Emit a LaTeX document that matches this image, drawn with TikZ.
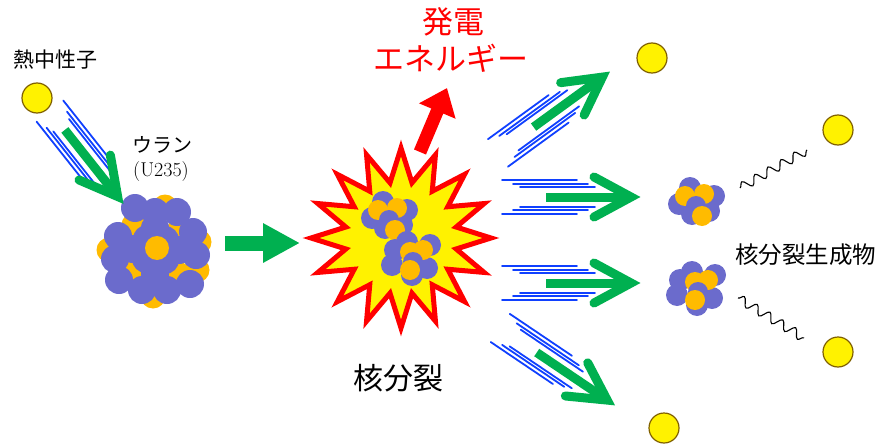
\documentclass[tikz,border=0pt]{standalone}
\usepackage{fontspec}
\newfontfamily\jp{Noto Sans CJK JP}
\usepackage{tikz}
\usetikzlibrary{arrows.meta,shapes.geometric,decorations.pathmorphing}

\definecolor{nucPurple}{RGB}{107,107,204}
\definecolor{nucOrange}{RGB}{255,187,0}
\definecolor{arrowGreen}{RGB}{0,176,80}
\definecolor{speedBlue}{RGB}{16,64,255}
\definecolor{neutronEdge}{RGB}{128,96,0}

\tikzset{
  neutron/.style={circle, fill=yellow, draw=neutronEdge, line width=1.2pt, minimum size=30pt, inner sep=0pt},
  speed/.style={speedBlue, line width=1.8pt, line cap=round},
  flyarrow/.style={arrowGreen, line width=9pt},
  jtext/.style={font=\jp, inner sep=0pt},
  gamma/.style={decorate, decoration={snake, segment length=15pt, amplitude=4.5pt}, line width=1.1pt},
  % small nuclei (fragments)
  fragA/.pic={
    \foreach \p in {(-7,-15),(17,-7),(-18,1),(-5,11),(12,8)} \fill[nucPurple] \p circle[radius=11];
    \foreach \p in {(-12,-7),(7,-9)} \fill[nucOrange] \p circle[radius=10];
    \fill[nucPurple] (-1,3) circle[radius=10];
    \fill[nucOrange] (5,13) circle[radius=10];
  },
  fragB/.pic={
    \foreach \p in {(-5,-16),(-17,-8),(18,-13),(-20,7),(15,10),(0,17)} \fill[nucPurple] \p circle[radius=11];
    \foreach \p in {(-2,-6),(11,-8)} \fill[nucOrange] \p circle[radius=10];
    \fill[nucPurple] (1,4) circle[radius=10];
    \fill[nucOrange] (-2,12) circle[radius=10];
  },
  % the big U235 nucleus
  uranium/.pic={
    \foreach \p in {(10,-43),(-46,0),(42,20),(-2,46),(-21,-25),(25,-21),(-23,22),(23,24),(44,-8)}
      \fill[nucOrange] \p circle[radius=12.5];
    \foreach \p in {(-20,-42),(22,-38),(38,-18),(41,5),(35,34),(12,40),(-13,40),(-36,30),(-40,9),(-37,-14),(0,-38),
                    (-8,-11),(10,-10),(-9,9),(10,10),(-22,-1),(24,0),(0,-22),(0,24)}
      \fill[nucPurple] \p circle[radius=14];
    \fill[nucOrange] (2,-2) circle[radius=12];
  }
}

\begin{document}
\begin{tikzpicture}[x=1pt,y=-1pt]
\useasboundingbox (0,0) rectangle (879,447);

% labels
\node[jtext, font=\jp\fontsize{21}{21}\selectfont] (thermal) at (55,60) {熱中性子};
\node[jtext, font=\jp\fontsize{20}{20}\selectfont] (uname) at (162,145) {ウラン};
\node[inner sep=0pt, font=\fontsize{20}{20}\selectfont] (uiso) at (161,172) {(U235)};
\node[jtext, red, font=\jp\fontsize{31}{31}\selectfont] (power) at (453,22) {発電};
\node[jtext, red, font=\jp\fontsize{31}{31}\selectfont] (energy) at (451,58) {エネルギー};
\node[jtext, font=\jp\fontsize{30}{30}\selectfont] (fission) at (398,378) {核分裂};
\node[jtext, anchor=west, font=\jp\fontsize{23.5}{23.5}\selectfont] (products) at (735,255) {核分裂生成物};

% neutrons
\foreach \p [count=\i] in {(37,98),(652,58),(838,130),(838,352),(664,428)}
  \node[neutron] (n\i) at \p {};

% nucleus, push arrow and blast
\pic at (155,250) {uranium};
\coordinate (pushstart) at (225,243);
\coordinate (pushend) at (300,243);
\draw[arrowGreen, line width=15pt, -{Triangle[length=37pt,width=37pt]}] (pushstart) -- (pushend);

\node[star, star points=16, star point ratio=1.6, minimum size=180pt, inner sep=0pt,
      draw=red, fill=yellow, line width=5pt] (blast) at (401,238) {};
\pic at (390,217) {fragA};
\pic at (412,258) {fragB};

\coordinate (heatstart) at (420,152);
\coordinate (heattip) at (447,88);
\draw[red, line width=13pt, -{Triangle[length=25pt,width=38pt]}] (heatstart) -- (heattip);

% flying neutrons: tip x / tip y / angle / shift of the speed lines
\foreach \tx/\ty/\ang/\o in {122/202/-51.6/20, 608/73/36/0, 638/197/0/0, 638/283/0/0, 613/404/-34/0}{
  \begin{scope}[shift={(\tx,\ty)}, rotate=\ang]
    \foreach \a/\b/\h in {-136/-61/17, -125/-50/13, -118/-43/10}
      \draw[speed] (\a+\o,-\h) -- (\b+\o,-\h) (\a+\o,\h) -- (\b+\o,\h);
    \draw[flyarrow] (-92,0) -- (-10,0);
    \draw[flyarrow, line cap=round, line join=miter] (-44,-20) -- (-7,0) -- (-44,20);
  \end{scope}
}

% fission products and gamma rays
\pic at (697,203) {fragA};
\pic at (697,288) {fragB};
\coordinate (g1a) at (740,188);
\coordinate (g1b) at (807,150);
\coordinate (g2a) at (738,298);
\coordinate (g2b) at (804,338);
\draw[gamma] (g1a) -- (g1b);
\draw[gamma] (g2a) -- (g2b);

\end{tikzpicture}
\end{document}
